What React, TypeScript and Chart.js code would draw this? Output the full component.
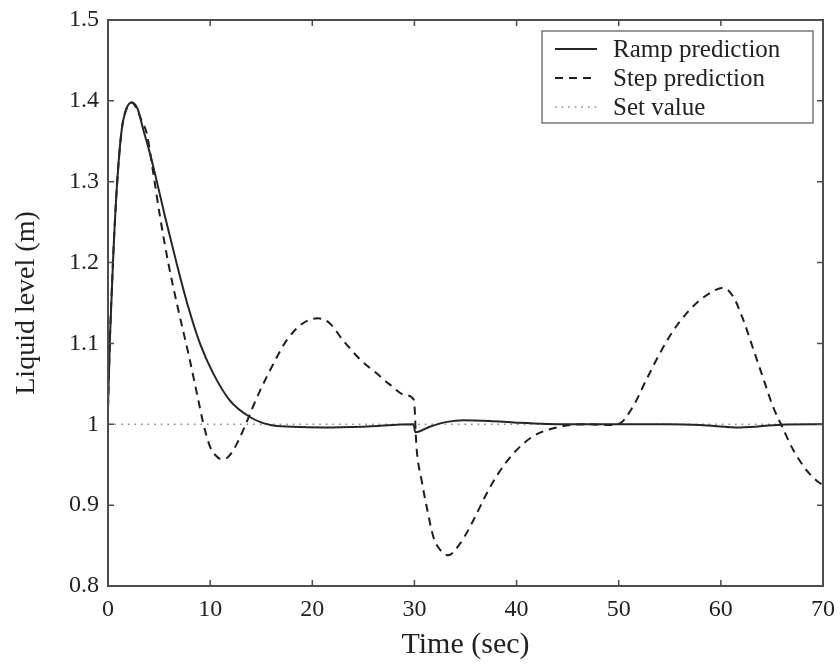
import React, { useEffect, useRef } from "react";
import { Chart, registerables } from "chart.js";

Chart.register(...registerables);

// ---- data ----
const rampTime = [0, 0.2, 0.52, 0.85, 1.34, 1.83, 2.32, 2.9, 3.46, 4.0, 4.6, 5.58, 6.72, 7.86, 9.0, 10.3, 11.9, 13.9, 15.9, 18, 21, 25, 29.9, 30.1, 31.5, 33.2, 34.8, 37.4, 40, 45, 50, 55, 58, 61.9, 65.9, 70];
const rampLevel = [1.02, 1.11, 1.21, 1.29, 1.364, 1.391, 1.398, 1.39, 1.364, 1.34, 1.31, 1.257, 1.199, 1.145, 1.1, 1.063, 1.03, 1.009, 0.999, 0.997, 0.996, 0.997, 1.0, 0.99, 0.997, 1.003, 1.005, 1.004, 1.002, 1.0, 1.0, 1.0, 0.999, 0.996, 0.9995, 1.0];

const stepTime = [0, 0.2, 0.52, 0.85, 1.34, 1.83, 2.32, 2.9, 3.3, 3.79, 4.44, 5.09, 5.91, 6.89, 7.86, 8.84, 9.33, 10.0, 10.5, 11.1, 11.7, 12.27, 13.25, 14.2, 14.9, 16.2, 17.5, 19.1, 20.6, 21.7, 23.0, 24.7, 26.3, 27.6, 29.1, 29.95, 30.2, 30.7, 31.2, 31.85, 32.5, 33.3, 34.5, 35.8, 37.1, 38.2, 39.7, 41.6, 44.3, 47, 49, 50.1, 51.4, 52.7, 54.0, 55.3, 56.7, 58.0, 59.3, 60.2, 61.2, 62.2, 63.2, 64.2, 65.1, 66.0, 67.1, 68.4, 69.5, 70];
const stepLevel = [1.02, 1.11, 1.21, 1.29, 1.364, 1.391, 1.398, 1.388, 1.375, 1.36, 1.31, 1.257, 1.199, 1.141, 1.088, 1.03, 1.001, 0.972, 0.962, 0.957, 0.959, 0.968, 0.993, 1.022, 1.042, 1.075, 1.104, 1.125, 1.131, 1.125, 1.104, 1.08, 1.063, 1.049, 1.036, 1.03, 0.972, 0.931, 0.898, 0.861, 0.845, 0.838, 0.853, 0.882, 0.915, 0.939, 0.964, 0.985, 0.997, 1.0, 0.999, 1.001, 1.022, 1.055, 1.087, 1.115, 1.138, 1.154, 1.165, 1.169, 1.158, 1.129, 1.092, 1.055, 1.022, 0.997, 0.968, 0.943, 0.929, 0.925];

const setTime = [0, 70];
const setLevel = [1, 1];

const seriesLabels = ["Ramp prediction", "Step prediction", "Set value"];
const xTitle = "Time (sec)";
const yTitle = "Liquid level (m)";
const xRange = [0, 70];
const yRange = [0.8, 1.5];

const FONT = "'Liberation Serif', 'Times New Roman', serif";
const INK = "#222222";
const FRAME = "#4d4d4d";

const toPoints = (xs: number[], ys: number[]) => xs.map((x, i) => ({ x, y: ys[i] }));

const frameTicks = {
  id: "frameTicks",
  afterDatasetsDraw(chart: any) {
    const { ctx, chartArea: a, scales } = chart;
    const xs = scales.x;
    const ys = scales.y;
    const len = 6;
    ctx.save();
    ctx.strokeStyle = FRAME;
    ctx.lineWidth = 1.5;
    ctx.beginPath();
    xs.ticks.forEach((t: any) => {
      const px = xs.getPixelForValue(t.value);
      ctx.moveTo(px, a.bottom);
      ctx.lineTo(px, a.bottom - len);
      ctx.moveTo(px, a.top);
      ctx.lineTo(px, a.top + len);
    });
    ys.ticks.forEach((t: any) => {
      const py = ys.getPixelForValue(t.value);
      ctx.moveTo(a.left, py);
      ctx.lineTo(a.left + len, py);
      ctx.moveTo(a.right, py);
      ctx.lineTo(a.right - len, py);
    });
    ctx.stroke();
    ctx.lineWidth = 2;
    ctx.strokeRect(a.left, a.top, a.right - a.left, a.bottom - a.top);
    ctx.restore();
  },
};

const boxLegend = {
  id: "boxLegend",
  afterDraw(chart: any) {
    const { ctx, chartArea: a } = chart;
    const right = a.right - 10;
    const top = a.top + 11;
    const width = 271;
    const height = 92;
    const left = right - width;
    ctx.save();
    ctx.fillStyle = "#ffffff";
    ctx.fillRect(left, top, width, height);
    ctx.strokeStyle = "#555555";
    ctx.lineWidth = 1.2;
    ctx.strokeRect(left, top, width, height);
    ctx.font = `25px ${FONT}`;
    ctx.textBaseline = "middle";
    ctx.textAlign = "left";
    chart.data.datasets.forEach((ds: any, i: number) => {
      const cy = top + 18 + i * 29;
      ctx.save();
      ctx.strokeStyle = ds.borderColor;
      ctx.lineWidth = ds.borderWidth;
      ctx.setLineDash(ds.borderDash || []);
      ctx.beginPath();
      ctx.moveTo(left + 13, cy);
      ctx.lineTo(left + 55, cy);
      ctx.stroke();
      ctx.restore();
      ctx.fillStyle = INK;
      ctx.fillText(ds.label, left + 71, cy + 1);
    });
    ctx.restore();
  },
};

export default function App() {
  const ref = useRef<HTMLCanvasElement | null>(null);

  useEffect(() => {
    document.body.style.margin = "0";
    document.body.style.background = "#ffffff";
    const canvas = ref.current;
    if (!canvas) return;
    const chart = new Chart(canvas, {
      type: "line",
      data: {
        datasets: [
          {
            label: seriesLabels[0],
            data: toPoints(rampTime, rampLevel),
            borderColor: "#262626",
            borderWidth: 2,
            pointRadius: 0,
            cubicInterpolationMode: "monotone",
            fill: false,
          },
          {
            label: seriesLabels[1],
            data: toPoints(stepTime, stepLevel),
            borderColor: "#1e1e1e",
            borderWidth: 2,
            borderDash: [8, 6],
            pointRadius: 0,
            cubicInterpolationMode: "monotone",
            fill: false,
          },
          {
            label: seriesLabels[2],
            data: toPoints(setTime, setLevel),
            borderColor: "#8a8a8a",
            borderWidth: 1.6,
            borderDash: [1.6, 5],
            pointRadius: 0,
            fill: false,
          },
        ],
      },
      options: {
        animation: false,
        responsive: false,
        maintainAspectRatio: false,
        layout: { padding: { top: 20, right: 17, bottom: 0, left: 0 } },
        plugins: {
          legend: { display: false },
          tooltip: { enabled: false },
        },
        scales: {
          x: {
            type: "linear",
            min: xRange[0],
            max: xRange[1],
            grid: { display: false, drawTicks: false },
            border: { display: false },
            ticks: {
              stepSize: 10,
              autoSkip: false,
              maxRotation: 0,
              padding: 9,
              color: INK,
              font: { family: FONT, size: 24 },
            },
            title: {
              display: true,
              text: xTitle,
              color: INK,
              font: { family: FONT, size: 30 },
              padding: { top: 0, bottom: 3 },
            },
            afterFit: (s: any) => {
              s.height = 80;
              s.paddingLeft = 0;
              s.paddingRight = 0;
            },
          },
          y: {
            type: "linear",
            min: yRange[0],
            max: yRange[1],
            grid: { display: false, drawTicks: false },
            border: { display: false },
            ticks: {
              stepSize: 0.1,
              autoSkip: false,
              padding: 9,
              color: INK,
              font: { family: FONT, size: 24 },
              callback: (v: any) => String(Number(Number(v).toFixed(1))),
            },
            title: {
              display: true,
              text: yTitle,
              color: INK,
              font: { family: FONT, size: 28 },
              padding: { top: 10, bottom: 0 },
            },
            afterFit: (s: any) => {
              s.width = 108;
              s.paddingTop = 0;
              s.paddingBottom = 0;
            },
          },
        },
      },
      plugins: [frameTicks, boxLegend],
    });
    return () => chart.destroy();
  }, []);

  return (
    <div style={{ width: 840, height: 666, background: "#ffffff" }}>
      <canvas ref={ref} width={840} height={666} style={{ display: "block" }} />
    </div>
  );
}
